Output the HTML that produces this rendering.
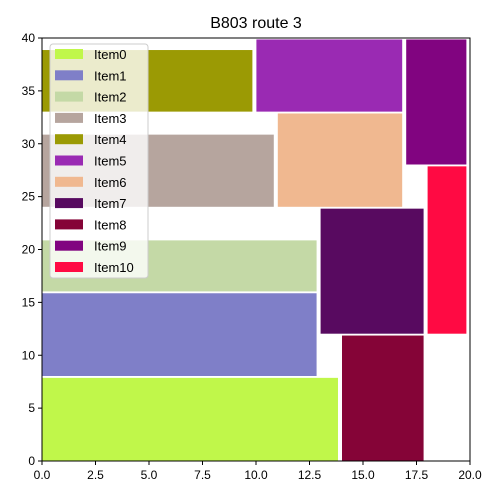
<!DOCTYPE html>
<html><head><meta charset="utf-8"><style>body{margin:0;background:#fff}svg{display:block;font-family:"Liberation Sans",sans-serif}</style></head>
<body>
<svg id="chart" width="500" height="500" viewBox="0 0 500 500"></svg>
<script>
const names=["Item0","Item1","Item2","Item3","Item4","Item5","Item6","Item7","Item8","Item9","Item10"];
const x0s=[0,0,0,0,0,10,11,13,14,17,18];
const x1s=[14,13,13,11,10,17,17,18,18,20,20];
const y0s=[0,8,16,24,33,33,24,12,0,28,12];
const y1s=[8,16,21,31,39,40,33,24,12,40,28];
const colors=["#c0f74a","#7f7fc8","#c4d9a6","#b6a59e","#9b9a04","#9a2ab3","#f0b890","#580a60","#850437","#810480","#ff0a43"];
const xticks=[0,2.5,5,7.5,10,12.5,15,17.5,20];
const yticks=[0,5,10,15,20,25,30,35,40];
const GX=0.15,GY=0.1;
const L=42,R=470,T=38,B=461;
const sx=v=>L+(v/20)*(R-L), sy=v=>B-(v/40)*(B-T);
const s=document.getElementById('chart');const NS="http://www.w3.org/2000/svg";
function mk(t,a,p){const e=document.createElementNS(NS,t);for(const k in a)e.setAttribute(k,a[k]);(p||s).appendChild(e);return e;}
const t=mk('text',{x:256,y:28,'text-anchor':'middle','font-size':16});t.textContent="B803 route 3";


names.forEach((n,i)=>{const r=mk('rect',{x:sx(x0s[i]),y:sy(y1s[i]-GY),width:sx(x1s[i]-GX)-sx(x0s[i]),height:sy(y0s[i])-sy(y1s[i]-GY),fill:colors[i],stroke:'#fff','stroke-width':0.8});

});
mk('rect',{x:L,y:T,width:R-L,height:B-T,fill:'none',stroke:'#000','stroke-width':1});
xticks.forEach(v=>{mk('line',{x1:sx(v),x2:sx(v),y1:B,y2:B+4,stroke:'#000'});const e=mk('text',{x:sx(v),y:B+18,'text-anchor':'middle','font-size':12});e.textContent=v.toFixed(1);

});
yticks.forEach(v=>{mk('line',{x1:L-4,x2:L,y1:sy(v),y2:sy(v),stroke:'#000'});const e=mk('text',{x:L-7,y:sy(v)+4,'text-anchor':'end','font-size':12});e.textContent=v;

});
const g=mk('g',{});
mk('rect',{x:50,y:44,width:98,height:234,rx:3,fill:'rgba(255,255,255,0.8)',stroke:'#ccc'},g);
names.forEach((n,i)=>{const y=49+i*21.3;mk('rect',{x:55,y:y,width:28,height:10,fill:colors[i]},g);const e=mk('text',{x:94,y:y+10,'font-size':13},g);e.textContent=n;

});
</script>
</body></html>
